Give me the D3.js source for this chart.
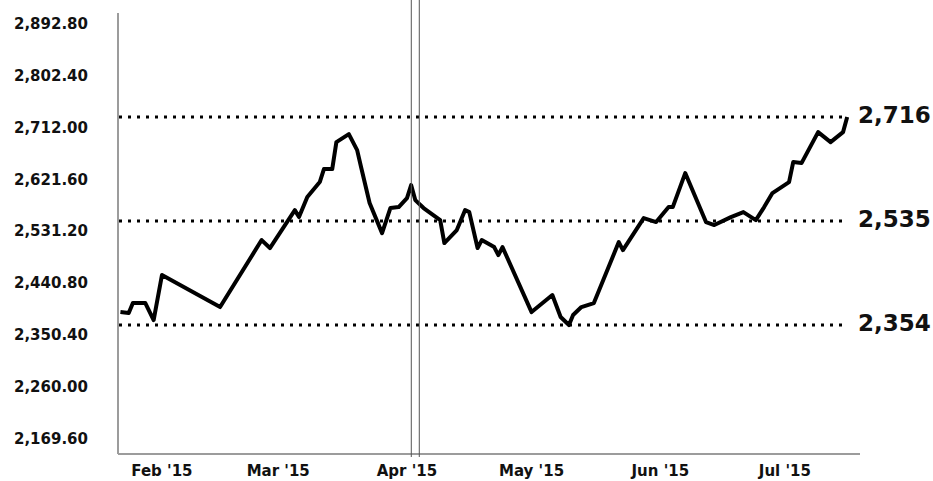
<!DOCTYPE html>
<html>
<head>
<meta charset="utf-8">
<script src="https://cdn.jsdelivr.net/npm/d3@7"></script>
<style>
    body { margin: 0; background: #fff; }
    text { font-family: "DejaVu Sans", Verdana, sans-serif; fill: #111; }
</style>
</head>
<body>
<script>
// closing values
const dates = [
    "2015-01-22", "2015-01-24", "2015-01-25", "2015-01-28", "2015-01-30",
    "2015-02-01", "2015-02-15", "2015-02-25", "2015-02-27",
    "2015-03-05", "2015-03-06", "2015-03-08", "2015-03-11", "2015-03-12",
    "2015-03-14", "2015-03-15", "2015-03-18", "2015-03-20", "2015-03-21",
    "2015-03-23", "2015-03-26", "2015-03-28", "2015-03-30",
    "2015-04-01", "2015-04-02", "2015-04-03", "2015-04-05", "2015-04-08",
    "2015-04-09", "2015-04-10", "2015-04-13", "2015-04-15", "2015-04-16",
    "2015-04-18", "2015-04-19", "2015-04-22", "2015-04-23", "2015-04-24",
    "2015-05-01", "2015-05-06", "2015-05-08", "2015-05-10", "2015-05-11",
    "2015-05-13", "2015-05-16", "2015-05-22", "2015-05-23", "2015-05-28",
    "2015-05-31", "2015-06-03", "2015-06-04", "2015-06-07", "2015-06-12",
    "2015-06-14", "2015-06-18", "2015-06-21", "2015-06-24", "2015-06-26",
    "2015-06-28", "2015-07-02", "2015-07-03", "2015-07-05", "2015-07-09",
    "2015-07-12", "2015-07-15", "2015-07-16"
];
const values = [
    2376.6, 2374.9, 2392.3, 2392.3, 2362.7,
    2441.0, 2385.3, 2501.9, 2488.0,
    2554.0, 2542.0, 2576.7, 2602.8, 2625.4,
    2625.4, 2672.4, 2686.3, 2658.5, 2627.2,
    2566.3, 2514.0, 2557.6, 2559.3,
    2575.0, 2597.6, 2571.5, 2557.6, 2541.9,
    2536.7, 2496.7, 2519.3, 2554.1, 2550.6,
    2488.0, 2501.9, 2489.7, 2475.8, 2489.7,
    2376.6, 2406.2, 2367.9, 2354.0, 2371.4,
    2385.3, 2392.3, 2498.4, 2484.5, 2540.2,
    2533.2, 2559.3, 2559.3, 2618.5, 2533.2,
    2528.0, 2541.9, 2550.6, 2536.7, 2559.3,
    2583.7, 2602.8, 2637.6, 2635.9, 2689.8,
    2672.4, 2689.8, 2716.0
];
const yTicks = [2169.6, 2260.0, 2350.4, 2440.8, 2531.2, 2621.6, 2712.0, 2802.4, 2892.8];
const cursorDate = "2015-04-03";

let width = 933;
let height = 481;
let parse = d3.timeParse("%Y-%m-%d");
let data = dates.map((d, i) => ({ date: parse(d), value: values[i] }));

let x = d3.scaleTime()
    .domain([new Date(2015, 0, 21, 10), new Date(2015, 6, 19, 2)])
    .range([118, 860]);
let y = d3.scaleLinear()
    .domain([2131.3, 2897.1])
    .range([453, 13]);

let svg = d3.select("body").append("svg")
    .attr("width", width)
    .attr("height", height);

// axes frame
svg.append("line")
    .attr("x1", 118).attr("x2", 118)
    .attr("y1", 13).attr("y2", 454)
    .attr("stroke", "#9c9c9c").attr("stroke-width", 2);
svg.append("line")
    .attr("x1", 118).attr("x2", 860)
    .attr("y1", 454).attr("y2", 454)
    .attr("stroke", "#9c9c9c").attr("stroke-width", 2);

svg.append("g")
    .selectAll("text")
    .data(yTicks)
    .join("text")
    .attr("x", 88)
    .attr("y", (d) => y(d) + 8)
    .attr("dy", "0.35em")
    .attr("text-anchor", "end")
    .style("font-size", "15px")
    .style("font-weight", "bold")
    .text((d) => d3.format(",.2f")(d));

svg.append("g")
    .selectAll("text")
    .data(x.ticks(d3.timeMonth.every(1)))
    .join("text")
    .attr("x", (d) => x(d))
    .attr("y", 471)
    .attr("dy", "0.35em")
    .attr("text-anchor", "middle")
    .style("font-size", "15px")
    .style("font-weight", "bold")
    .text((d) => d3.timeFormat("%b '%y")(d));

// max / mid / min reference lines
let maxV = d3.max(values);
let minV = d3.min(values);
let levels = [maxV, (maxV + minV) / 2, minV];
let lastX = x(data[data.length - 1].date);

svg.append("g")
    .selectAll("line")
    .data(levels)
    .join("line")
    .attr("x1", 119)
    .attr("x2", lastX)
    .attr("y1", (d) => y(d))
    .attr("y2", (d) => y(d))
    .attr("stroke", "#000")
    .attr("stroke-width", 3)
    .attr("stroke-dasharray", "3,6");

svg.append("g")
    .selectAll("text")
    .data(levels)
    .join("text")
    .attr("x", 858)
    .attr("y", (d) => y(d) - 2)
    .attr("dy", "0.35em")
    .style("font-size", "23px")
    .style("font-weight", "bold")
    .text((d) => d3.format(",.0f")(d));

// price line
let line = d3.line()
    .x((d) => x(d.date))
    .y((d) => y(d.value));

svg.append("path")
    .datum(data)
    .attr("d", line)
    .attr("fill", "none")
    .attr("stroke", "#000")
    .attr("stroke-width", 4)
    .attr("stroke-linejoin", "round");

// crosshair cursor
let cx = x(parse(cursorDate));
svg.append("g")
    .selectAll("line")
    .data([cx - 4, cx + 4])
    .join("line")
    .attr("x1", (d) => d).attr("x2", (d) => d)
    .attr("y1", 0).attr("y2", 457)
    .attr("stroke", "#555")
    .attr("stroke-width", 1);
</script>
</body>
</html>
